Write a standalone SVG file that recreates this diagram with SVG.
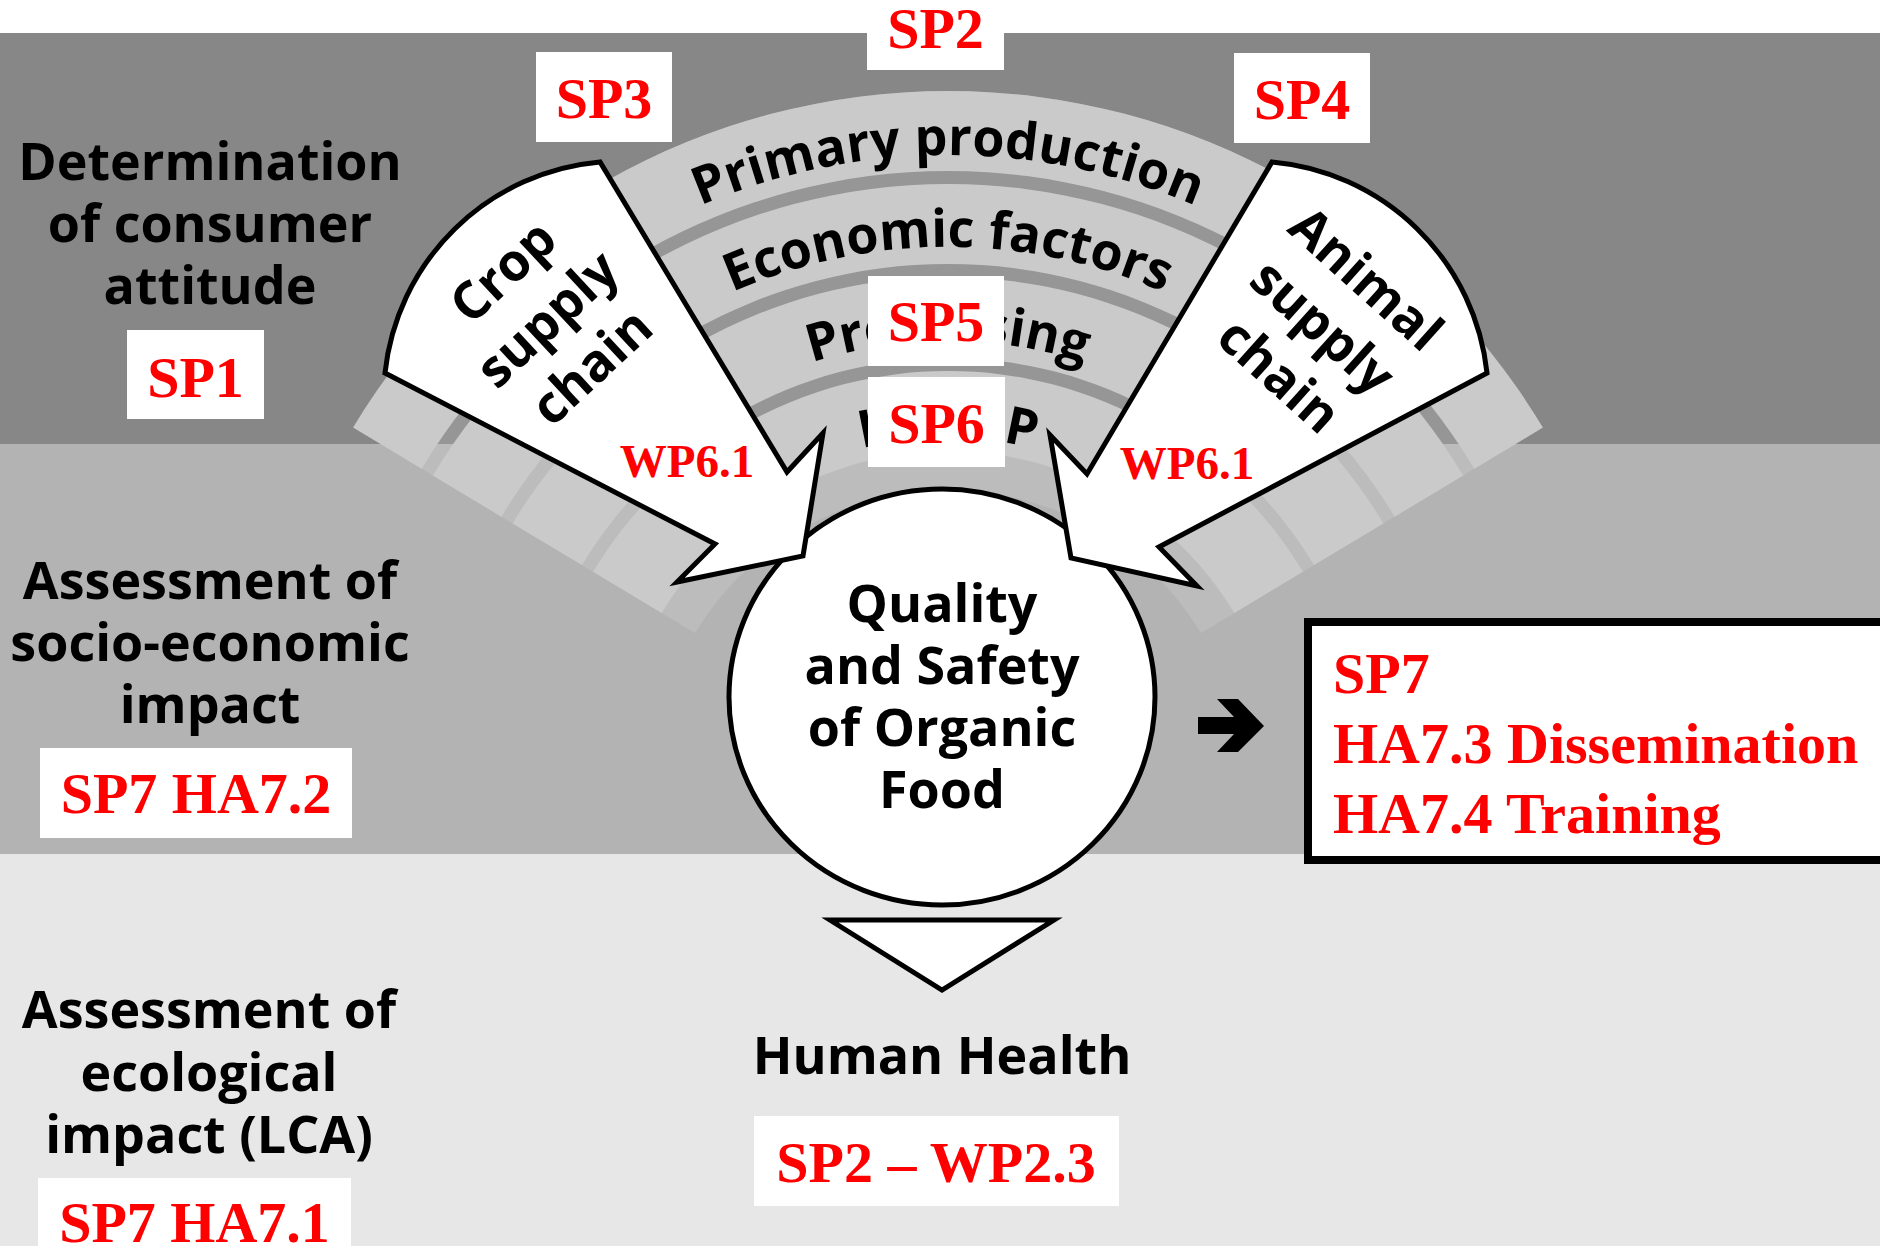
<svg xmlns="http://www.w3.org/2000/svg" width="1880" height="1246" viewBox="0 0 1880 1246">
<defs>
<style>
.lbl{font-family:"Open Sans","Liberation Sans",sans-serif;font-weight:700;font-size:52px;fill:#000;text-anchor:middle}
.arc{font-family:"Open Sans","Liberation Sans",sans-serif;font-weight:700;font-size:52px;fill:#000}
.red{font-family:"Liberation Serif","Times New Roman",serif;font-weight:700;font-size:58px;fill:#ff0000;text-anchor:middle}
.redl{font-family:"Liberation Serif","Times New Roman",serif;font-weight:700;font-size:58px;fill:#ff0000}
.wp{font-family:"Liberation Serif","Times New Roman",serif;font-weight:700;font-size:47px;fill:#ff0000;text-anchor:middle}
.box{fill:#fff}
.ring{fill:#cacaca}
.shape{fill:#fff;stroke:#000;stroke-width:5;stroke-linejoin:miter}
</style>
<path id="p1" d="M356,569.5 A630,630 0 0 1 1540,569.5"/>
<path id="p2" d="M442.4,601 A538,538 0 0 1 1453.6,601"/>
<path id="p3" d="M530.8,633.2 A444,444 0 0 1 1365.2,633.2"/>
<path id="p4" d="M621.9,666.3 A347,347 0 0 1 1274.1,666.3"/>
</defs>

<g id="background">
<rect x="0" y="0" width="1880" height="33" fill="#ffffff"/>
<rect x="0" y="33" width="1880" height="411" fill="#878787"/>
<rect x="0" y="444" width="1880" height="410" fill="#b3b3b3"/>
<rect x="0" y="854" width="1880" height="392" fill="#e7e7e7"/>
</g>

<g id="fan">
<path d="M353.1,427.6 A694,694 0 0 1 1542.9,427.6 L1200.9,633.1 A295,295 0 0 0 695.1,633.1 Z" fill="#ffffff" fill-opacity="0.13"/>
<path class="ring" d="M353.1,427.6 A694,694 0 0 1 1542.9,427.6 L1474.3,468.8 A614,614 0 0 0 421.7,468.8 Z"/>
<path class="ring" d="M432.8,475.5 A601,601 0 0 1 1463.2,475.5 L1394.6,516.7 A521,521 0 0 0 501.4,516.7 Z"/>
<path class="ring" d="M512.6,523.4 A508,508 0 0 1 1383.4,523.4 L1314,565.1 A427,427 0 0 0 582,565.1 Z"/>
<path class="ring" d="M593.1,571.8 A414,414 0 0 1 1302.9,571.8 L1234.3,613 A334,334 0 0 0 661.7,613 Z"/>
<text class="arc"><textPath href="#p1" startOffset="50%" text-anchor="middle">Primary production</textPath></text>
<text class="arc"><textPath href="#p2" startOffset="50%" text-anchor="middle">Economic factors</textPath></text>
<text class="arc"><textPath href="#p3" startOffset="50%" text-anchor="middle">Processing</textPath></text>
<text class="arc"><textPath href="#p4" startOffset="50%" text-anchor="middle">HACCP</textPath></text>
</g>

<g id="quality-node">
<ellipse class="shape" cx="942" cy="697" rx="213" ry="208"/>
<text class="lbl" x="942" y="622">Quality</text>
<text class="lbl" x="942" y="684">and Safety</text>
<text class="lbl" x="942" y="746">of Organic</text>
<text class="lbl" x="942" y="808">Food</text>
</g>

<g id="crop-supply-chain">
<path class="shape" d="M385,373 A237,237 0 0 1 600,162 L787,472 L823,433 L803,556 L677,582 L715,544 Z"/>
<g transform="translate(550,322) rotate(-43)">
<text class="lbl" x="0" y="-51" font-size="55">Crop</text>
<text class="lbl" x="0" y="14" font-size="55">supply</text>
<text class="lbl" x="0" y="79" font-size="55">chain</text>
</g>
<text class="wp" x="687" y="477">WP6.1</text>
</g>

<g id="animal-supply-chain">
<path class="shape" d="M1487,373 A237,237 0 0 0 1272,162 L1087,474 L1050,435 L1071,558 L1197,586 L1159,547 Z"/>
<g transform="translate(1320,330) rotate(42)">
<text class="lbl" x="0" y="-51" font-size="55">Animal</text>
<text class="lbl" x="0" y="14" font-size="55">supply</text>
<text class="lbl" x="0" y="79" font-size="55">chain</text>
</g>
<text class="wp" x="1187" y="479">WP6.1</text>
</g>

<g id="human-health">
<path class="shape" d="M830,920 L1054,920 L942,990 Z"/>
<text class="lbl" x="942" y="1074">Human Health</text>
<rect class="box" x="754" y="1116" width="365" height="90"/>
<text class="red" x="936" y="1182">SP2 – WP2.3</text>
</g>

<g id="consumer-attitude">
<text class="lbl" x="210" y="180">Determination</text>
<text class="lbl" x="210" y="242">of consumer</text>
<text class="lbl" x="210" y="304">attitude</text>
<rect class="box" x="127" y="330" width="137" height="89"/>
<text class="red" x="195.5" y="397">SP1</text>
</g>

<g id="socio-economic">
<text class="lbl" x="210" y="599">Assessment of</text>
<text class="lbl" x="210" y="661">socio-economic</text>
<text class="lbl" x="210" y="723">impact</text>
<rect class="box" x="40" y="748" width="312" height="90"/>
<text class="red" x="196" y="813">SP7 HA7.2</text>
</g>

<g id="ecological">
<text class="lbl" x="209" y="1028">Assessment of</text>
<text class="lbl" x="209" y="1091">ecological</text>
<text class="lbl" x="209" y="1153">impact (LCA)</text>
<rect class="box" x="38" y="1178" width="313" height="80"/>
<text class="red" x="194.5" y="1242">SP7 HA7.1</text>
</g>

<g id="sp-labels">
<rect class="box" x="867" y="0" width="137" height="70"/>
<text class="red" x="935.5" y="48">SP2</text>
<rect class="box" x="536" y="52" width="136" height="90"/>
<text class="red" x="604" y="118">SP3</text>
<rect class="box" x="1234" y="53" width="136" height="90"/>
<text class="red" x="1302" y="119">SP4</text>
<rect class="box" x="868" y="276" width="136" height="90"/>
<text class="red" x="936" y="341">SP5</text>
<rect class="box" x="868" y="377" width="137" height="90"/>
<text class="red" x="936.5" y="443">SP6</text>
</g>

<g id="connectors">
<path d="M1198,717 L1234,717 L1217,699 L1238,699 L1264,726 L1238,752 L1217,752 L1234,734 L1198,734 Z" fill="#000"/>
</g>

<g id="sp7-box">
<rect x="1308" y="622" width="600" height="238" fill="#fff" stroke="#000" stroke-width="8"/>
<text class="redl" x="1333" y="693">SP7</text>
<text class="redl" x="1333" y="763">HA7.3 Dissemination</text>
<text class="redl" x="1333" y="833">HA7.4 Training</text>
</g>
</svg>
